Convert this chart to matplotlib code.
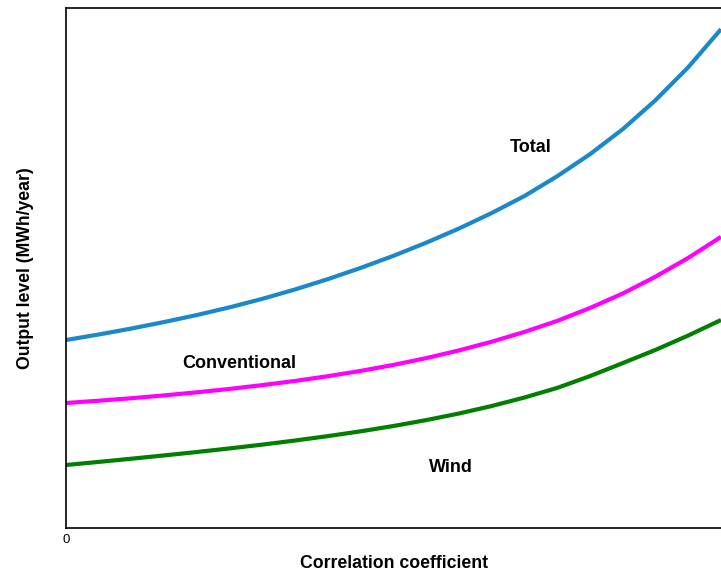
import matplotlib
matplotlib.use("Agg")
import matplotlib.pyplot as plt

plt.rcParams['font.family'] = ['Liberation Sans', 'DejaVu Sans']

corr = [0.0, 0.05, 0.1, 0.15, 0.2, 0.25, 0.3, 0.35, 0.4, 0.45, 0.5,
        0.55, 0.6, 0.65, 0.7, 0.75, 0.8, 0.85, 0.9, 0.95, 1.0]
total = [188, 193.5, 199.5, 206, 213, 220.7, 229.2, 238.6, 248.9, 260.1, 272.2,
         285.3, 299.5, 315, 332, 351.8, 373.8, 398.8, 427.8, 460.8, 498.8]
conventional = [125, 127.3, 129.8, 132.6, 135.7, 139.1, 142.9, 147.1, 151.8, 157.1, 163.1,
                169.9, 177.6, 186.3, 196.1, 207.1, 220, 234.5, 251.3, 270.1, 291.1]
wind = [63, 66.1, 69.3, 72.6, 76, 79.6, 83.4, 87.5, 91.9, 96.7, 102,
        107.9, 114.5, 122, 130.5, 140.1, 151.9, 164.9, 178.1, 192.5, 208]

fig = plt.figure(figsize=(7.21, 5.75), dpi=100)
ax = fig.add_axes([66/721, 47/575, 655/721, 520/575])

kw = dict(lw=3.0, solid_capstyle='butt', solid_joinstyle='round')
ax.plot(corr, total, color='#1a88c9', **kw)
ax.plot(corr, conventional, color='#ff00ff', **kw)
ax.plot(corr, wind, color='#007f00', **kw)

ax.set_xlim(0, 1)
ax.set_ylim(0, 520)
ax.spines['right'].set_visible(False)
for s in ['left', 'top', 'bottom']:
    ax.spines[s].set_linewidth(1.2)
ax.set_xticks([0])
ax.set_xticklabels(['0'])
ax.set_yticks([])
ax.tick_params(axis='x', length=0, pad=4, labelsize=9.5)

ax.text(0.71, 381, 'Total', ha='center', va='center', fontsize=13, fontweight='bold')
ax.text(0.264, 165, 'Conventional', ha='center', va='center', fontsize=13, fontweight='bold')
ax.text(0.588, 61, 'Wind', ha='center', va='center', fontsize=13, fontweight='bold')

ax.set_xlabel('Correlation coefficient', fontsize=12.7, fontweight='bold', labelpad=7)
ax.set_ylabel('Output level (MWh/year)', fontsize=12.7, fontweight='bold', labelpad=23)

fig.savefig('out.png', dpi=100)
